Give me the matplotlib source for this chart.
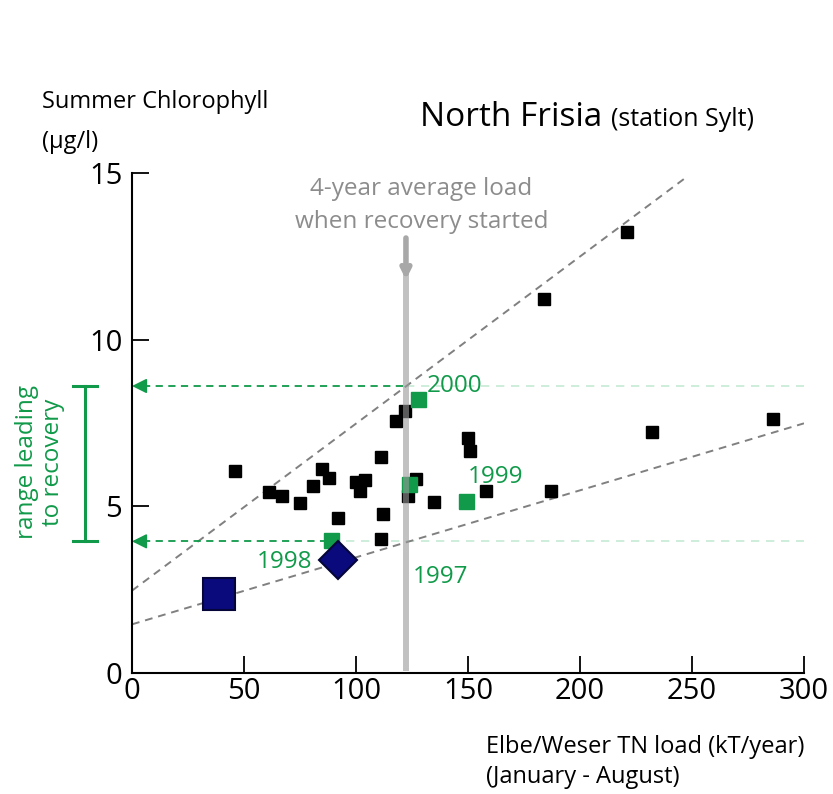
import matplotlib
matplotlib.use('Agg')
import matplotlib.pyplot as plt
import matplotlib.transforms as mtransforms

plt.rcParams['font.family'] = ['Open Sans', 'DejaVu Sans']

# Yearly points (TN load, summer chlorophyll)
black_x = [46, 61, 67, 75, 81, 85, 88, 92, 100, 102, 104, 111, 111, 112,
           118, 122, 123, 127, 135, 150, 151, 158, 184, 187, 221, 232, 286]
black_y = [6.07, 5.44, 5.31, 5.11, 5.62, 6.11, 5.84, 4.65, 5.74, 5.46, 5.79,
           6.48, 4.01, 4.76, 7.56, 7.87, 5.30, 5.82, 5.13, 7.04, 6.66, 5.46,
           11.22, 5.47, 13.24, 7.24, 7.61]

# Recovery years
green_years = ['1997', '1998', '1999', '2000']
green_x = [123.7, 89, 149.1, 127.5]
green_y = [5.67, 3.99, 5.17, 8.22]

# Reference points (blue)
blue_square = (38.7, 2.36)
blue_diamond = (92.1, 3.39)

# Envelope lines
upper_line_x = [0, 247]
upper_line_y = [2.47, 14.85]
lower_line_x = [0, 300]
lower_line_y = [1.46, 7.49]

recovery_range = [3.95, 8.61]
load_start = 122.3

green = '#119a4a'
light_green = '#c5ead3'
W, H = 833, 794

fig = plt.figure(figsize=(W / 100, H / 100), dpi=100)
ax = fig.add_axes([132 / W, 1 - 673 / H, 672 / W, 500 / H])
ax.set_xlim(0, 300)
ax.set_ylim(0, 15)

# envelope lines
ax.plot(upper_line_x, upper_line_y, color='#808080', lw=1.4, dashes=(4, 3), zorder=2)
ax.plot(lower_line_x, lower_line_y, color='#808080', lw=1.4, dashes=(4, 3), zorder=2)

# recovery range dashed arrows
hi, lo = recovery_range[1], recovery_range[0]
ax.plot([load_start, 300], [hi, hi], color=light_green, lw=1.2, dashes=(5, 4), zorder=1)
ax.plot([green_x[1], 300], [lo, lo], color=light_green, lw=1.2, dashes=(5, 4), zorder=1)
ax.plot([5, load_start], [hi, hi], color=green, lw=1.3, dashes=(4, 3), zorder=2)
ax.plot([5, green_x[1]], [lo, lo], color=green, lw=1.3, dashes=(4, 3), zorder=2)
for yv in recovery_range:
    ax.annotate('', xy=(0, yv), xytext=(6, yv),
                arrowprops=dict(arrowstyle='-|>', color=green, lw=1.3,
                                mutation_scale=22, shrinkA=0, shrinkB=0),
                annotation_clip=False)

# points
ax.plot(black_x, black_y, 's', color='black', ms=8.6, zorder=3, clip_on=False)
ax.plot(green_x, green_y, 's', color=green, ms=10.8, zorder=4, clip_on=False)
ax.plot(*blue_square, 's', color='#0a0a7d', mec='#05053a', mew=1.5, ms=22.5, zorder=6)
ax.plot(*blue_diamond, 'D', color='#0a0a7d', mec='#05053a', mew=1.5, ms=19.5, zorder=6)

# vertical load line with arrow
ax.plot([load_start, load_start], [0.05, 12.2], color='#999999', alpha=0.6,
        lw=4.3, solid_capstyle='butt', zorder=5)
ax.annotate('', xy=(load_start, 11.8), xytext=(load_start, 13.05),
            arrowprops=dict(arrowstyle='->', color='#a8a8a8', lw=4,
                            mutation_scale=14, shrinkA=0, shrinkB=0), zorder=5)

# year labels
ax.text(131.5, 8.44, '2000', color=green, fontsize=17.5)
ax.text(150, 5.7, '1999', color=green, fontsize=17.5)
ax.text(55.5, 3.15, '1998', color=green, fontsize=17.5)
ax.text(125.3, 2.7, '1997', color=green, fontsize=17.5)

# range bracket on the left
trans = mtransforms.blended_transform_factory(ax.transAxes, ax.transData)
bx = (85 - 132) / 672
cw = 12 / 672
ax.plot([bx, bx], [lo, hi], color=green, lw=2.2, transform=trans, clip_on=False)
for yv in recovery_range:
    ax.plot([bx - cw, bx + cw], [yv, yv], color=green, lw=2.2,
            transform=trans, clip_on=False)
ax.text((40 - 132) / 672, 6.33, 'range leading\nto recovery', color=green,
        fontsize=17.5, rotation=90, ha='center', va='center',
        multialignment='center', transform=trans, linespacing=1.15)

# axes styling
for side in ['top', 'right']:
    ax.spines[side].set_visible(False)
for side in ['left', 'bottom']:
    ax.spines[side].set_linewidth(1.5)
ax.set_xticks([0, 50, 100, 150, 200, 250, 300])
ax.set_yticks([0, 5, 10, 15])
ax.tick_params(axis='both', direction='in', length=12, width=1.3, labelsize=21)
ax.tick_params(axis='y', pad=7)
ax.tick_params(axis='x', pad=3)

# figure texts
fig.text(42 / W, 1 - 108 / H, 'Summer Chlorophyll', fontsize=17, va='baseline')
fig.text(42 / W, 1 - 148 / H, '(\u03bcg/l)', fontsize=17, va='baseline')
fig.text(420 / W, 1 - 126 / H, 'North Frisia', fontsize=24, va='baseline')
fig.text(611 / W, 1 - 126 / H, '(station Sylt)', fontsize=18, va='baseline')
fig.text(421.5 / W, 1 - 195 / H, '4-year average load', fontsize=17.5,
         color='#8c8c8c', ha='center', va='baseline')
fig.text(421.5 / W, 1 - 228 / H, 'when recovery started', fontsize=17.5,
         color='#8c8c8c', ha='center', va='baseline')
fig.text(486 / W, 1 - 753 / H, 'Elbe/Weser TN load (kT/year)', fontsize=17, va='baseline')
fig.text(486 / W, 1 - 783 / H, '(January - August)', fontsize=17, va='baseline')

fig.savefig('out.png', dpi=100)
